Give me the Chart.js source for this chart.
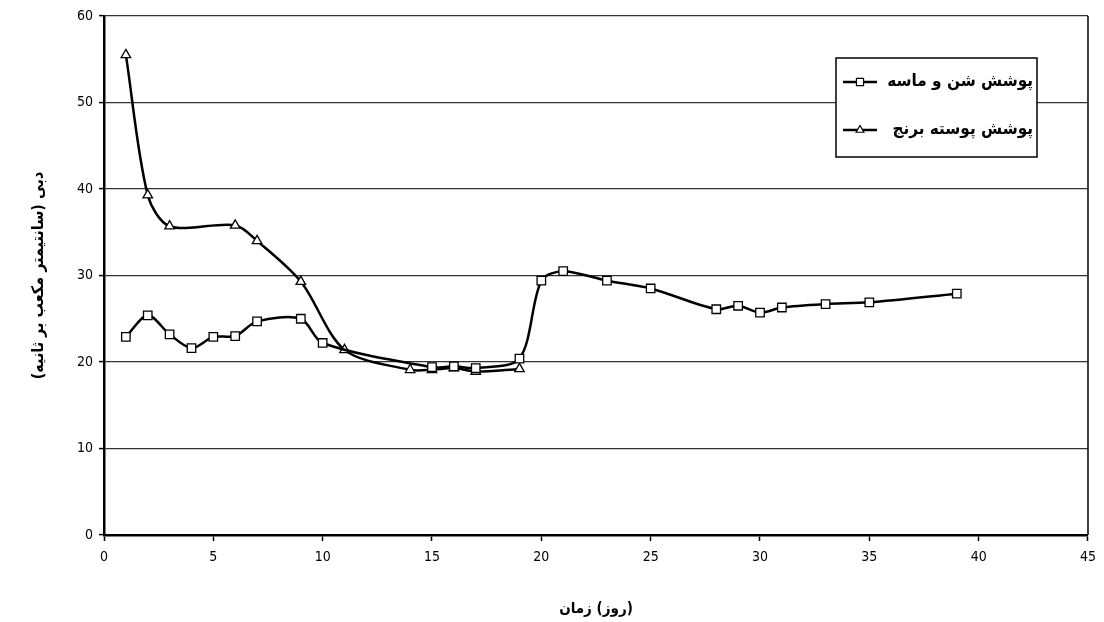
<!DOCTYPE html>
<html>
<head>
<meta charset="utf-8">
<script src="https://cdn.jsdelivr.net/npm/chart.js@4.4.1/dist/chart.umd.min.js"></script>
<style>
    html, body { margin: 0; padding: 0; background: #fff; }
    #wrap { width: 1104px; height: 622px; }
</style>
</head>
<body>
<div id="wrap"><canvas id="chart" dir="rtl"></canvas></div>
<script>
// Values
const sandDays = [1, 2, 3, 4, 5, 6, 7, 9, 10, 15, 16, 17, 19, 20, 21, 23, 25, 28, 29, 30, 31, 33, 35, 39];
const sandFlow = [22.9, 25.4, 23.2, 21.6, 22.9, 23.0, 24.7, 25.0, 22.2, 19.4, 19.5, 19.3, 20.4, 29.4, 30.5, 29.4, 28.5, 26.1, 26.5, 25.7, 26.3, 26.7, 26.9, 27.9];
const riceDays = [1, 2, 3, 6, 7, 9, 11, 14, 15, 16, 17, 19];
const riceFlow = [55.5, 39.3, 35.7, 35.8, 34.0, 29.3, 21.4, 19.1, 19.1, 19.3, 18.9, 19.2];
const seriesNames = ['پوشش شن و ماسه', 'پوشش پوسته برنج'];
const xTitle = '(روز) زمان';
const yTitle = 'دبی (سانتیمتر مکعب بر ثانیه)';

const font = "'DejaVu Sans Condensed', 'DejaVu Sans', sans-serif";

function toPoints(xs, ys) {
    return xs.map((x, i) => ({x: x, y: ys[i]}));
}

// Legend box inside the plot, like the original
const boxLegend = {
    id: 'boxLegend',
    afterDraw: (chart) => {
        const ctx = chart.ctx;
        const left = 836, top = 58, w = 201, h = 99;
        ctx.save();
        ctx.fillStyle = '#fff';
        ctx.fillRect(left, top, w, h);
        ctx.strokeStyle = '#000';
        ctx.lineWidth = 1.5;
        ctx.strokeRect(left, top, w, h);
        const rows = [82, 130];
        chart.data.datasets.forEach((ds, i) => {
            let y = rows[i];
            ctx.strokeStyle = '#000';
            ctx.lineWidth = 2.5;
            ctx.beginPath();
            ctx.moveTo(843, y);
            ctx.lineTo(877, y);
            ctx.stroke();
            ctx.fillStyle = '#fff';
            ctx.lineWidth = 1.2;
            Chart.helpers.drawPoint(ctx, {
                pointStyle: ds.pointStyle,
                radius: ds.pointRadius - 1,
                borderWidth: 1.2
            }, 860, y);
            ctx.fillStyle = '#000';
            ctx.font = "bold 17px " + font;
            ctx.textAlign = 'right';
            ctx.textBaseline = 'middle';
            ctx.direction = 'rtl';
            ctx.fillText(ds.label, 1033, y);
        });
        ctx.restore();
    }
};

// Right edge of the plot area
const rightEdge = {
    id: 'rightEdge',
    afterDatasetsDraw: (chart) => {
        const a = chart.chartArea;
        const ctx = chart.ctx;
        ctx.save();
        ctx.strokeStyle = '#000';
        ctx.lineWidth = 1.5;
        ctx.beginPath();
        ctx.moveTo(a.right, a.top);
        ctx.lineTo(a.right, a.bottom);
        ctx.stroke();
        ctx.restore();
    }
};

new Chart(document.getElementById('chart'), {
    type: 'line',
    data: {
        datasets: [
            {
                label: seriesNames[0],
                data: toPoints(sandDays, sandFlow),
                borderColor: '#000',
                borderWidth: 2.5,
                backgroundColor: '#fff',
                pointStyle: 'rect',
                pointRadius: 6,
                pointBorderWidth: 1.3,
                pointBorderColor: '#000',
                pointBackgroundColor: '#fff',
                tension: 0.3
            },
            {
                label: seriesNames[1],
                data: toPoints(riceDays, riceFlow),
                borderColor: '#000',
                borderWidth: 2.5,
                backgroundColor: '#fff',
                pointStyle: 'triangle',
                pointRadius: 5.5,
                pointBorderWidth: 1.3,
                pointBorderColor: '#000',
                pointBackgroundColor: '#fff',
                tension: 0.3
            }
        ]
    },
    options: {
        responsive: true,
        maintainAspectRatio: false,
        animation: false,
        events: [],
        layout: {padding: {left: 0, right: 14, top: 16, bottom: 0}},
        plugins: {
            legend: {display: false},
            tooltip: {enabled: false}
        },
        scales: {
            x: {
                type: 'linear',
                min: 0,
                max: 45,
                afterFit: (axis) => { axis.height = 87; },
                ticks: {stepSize: 5, color: '#000', padding: 8, font: {family: font, size: 14}, maxRotation: 0},
                grid: {drawOnChartArea: false, color: '#000', tickLength: 6, tickWidth: 1.5},
                border: {color: '#000', width: 2.5},
                title: {display: true, text: xTitle, color: '#000', font: {family: font, size: 15, weight: 'bold'}, padding: {top: 6}}
            },
            y: {
                min: 0,
                max: 60,
                afterFit: (axis) => { axis.width = 104; },
                ticks: {stepSize: 10, color: '#000', padding: 6, font: {family: font, size: 14}},
                grid: {color: '#333', lineWidth: 1.2, tickLength: 5, tickColor: '#000', tickWidth: 1.5},
                border: {color: '#000', width: 2.5},
                title: {display: true, text: yTitle, color: '#000', font: {family: font, size: 16, weight: 'bold'}, padding: {top: 29, bottom: 0}}
            }
        }
    },
    plugins: [rightEdge, boxLegend]
});
</script>
</body>
</html>
